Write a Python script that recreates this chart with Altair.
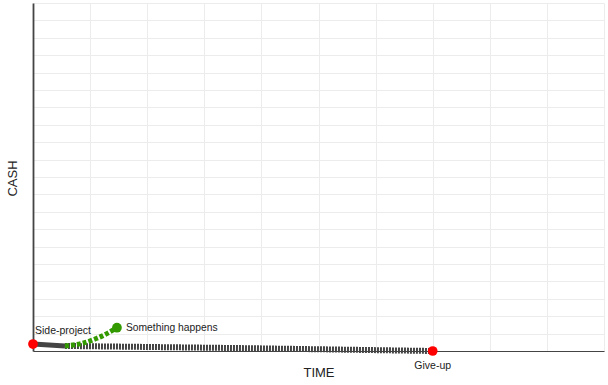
import altair as alt
import pandas as pd

# Data
event_names = ["Side-project", "Something happens", "Give-up"]
event_x = [0.0, 1.47, 7.0]
event_y = [0.4, 1.34, 0.0]
event_colors = ["#ff0000", "#339900", "#ff0000"]

solid_x = [0.0, 0.56]
solid_y = [0.4, 0.29]

dashed_x = [0.56, 3.8, 7.0]
dashed_y = [0.29, 0.16, 0.0]

green_x = [0.56, 0.86, 1.12, 1.31, 1.47]
green_y = [0.29, 0.44, 0.73, 1.03, 1.34]

x_grid = list(range(0, 11))
y_grid = list(range(0, 21))

events = pd.DataFrame({"name": event_names, "x": event_x, "y": event_y, "color": event_colors})
solid = pd.DataFrame({"x": solid_x, "y": solid_y})
dashed = pd.DataFrame({"x": dashed_x, "y": dashed_y})
green = pd.DataFrame({"x": green_x, "y": green_y})

FONT = "Liberation Sans"

xscale = alt.Scale(domain=[0, 10], nice=False, zero=False)
yscale = alt.Scale(domain=[0, 20], nice=False, zero=False)

xaxis = alt.Axis(
    title="TIME", values=x_grid, labels=False, ticks=False, grid=True,
    gridColor="#ececec", gridWidth=1, domainColor="#444444", domainWidth=1.2,
    titleFont=FONT, titleFontSize=13, titleFontWeight="normal", titleColor="#222222",
    titleY=21, titleBaseline="middle",
)
yaxis = alt.Axis(
    title="CASH", values=y_grid, labels=False, ticks=False, grid=True,
    gridColor="#ececec", gridWidth=1, domainColor="#444444", domainWidth=1.8,
    titleFont=FONT, titleFontSize=13, titleFontWeight="normal", titleColor="#222222",
    titleX=-20.5, titleY=175, titleAngle=-90, titleAlign="center", titleBaseline="middle",
)

X = alt.X("x:Q", scale=xscale, axis=xaxis)
Y = alt.Y("y:Q", scale=yscale, axis=yaxis)

solid_line = alt.Chart(solid).mark_line(color="#444444", strokeWidth=5, strokeCap="butt").encode(
    x=X, y=Y
)
dashed_line = alt.Chart(dashed).mark_line(
    color="#444444", strokeWidth=6, strokeDash=[2, 1], strokeCap="butt"
).encode(x=X, y=Y)
green_line = alt.Chart(green).mark_line(
    color="#339900", strokeWidth=5, strokeDash=[4, 2], interpolate="monotone", strokeCap="butt"
).encode(x=X, y=Y)

points = alt.Chart(events).mark_circle(size=95, opacity=1).encode(
    x=X, y=Y, color=alt.Color("color:N", scale=None)
)

lab_side = alt.Chart(events[events.name == "Side-project"]).mark_text(
    align="left", baseline="middle", dx=2, dy=-12.6, font=FONT, fontSize=10.5, color="#222222"
).encode(x=X, y=Y, text="name:N")
lab_some = alt.Chart(events[events.name == "Something happens"]).mark_text(
    align="left", baseline="middle", dx=9, dy=0, font=FONT, fontSize=10.3, color="#222222"
).encode(x=X, y=Y, text="name:N")
lab_give = alt.Chart(events[events.name == "Give-up"]).mark_text(
    align="center", baseline="middle", dx=0, dy=14.7, font=FONT, fontSize=10.5, color="#222222"
).encode(x=X, y=Y, text="name:N")

chart = alt.layer(
    solid_line, dashed_line, green_line, points, lab_side, lab_some, lab_give
).properties(
    width=571, height=348,
    autosize=alt.AutoSizeParams(type="none"),
    padding={"left": 33, "top": 3, "right": 4, "bottom": 34},
    background="white",
).configure_view(stroke=None)

chart.save("out.html", embed_options={"renderer": "svg", "actions": False})
